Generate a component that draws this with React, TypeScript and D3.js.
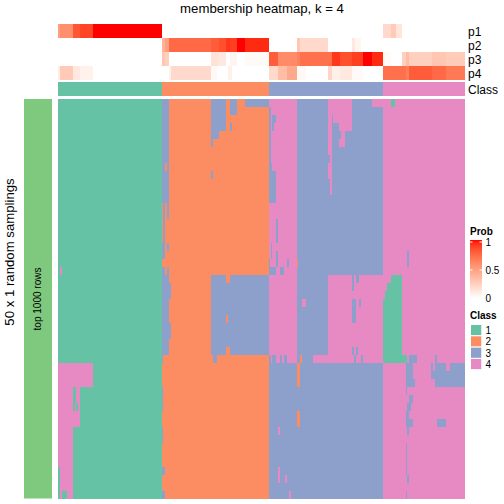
import React from "react";
import * as d3 from "d3";

const classNames = ["1", "2", "3", "4"];
const classColors = ["#66C2A5", "#FC8D62", "#8DA0CB", "#E78AC3"];
const columnClass: [number, number][] = [[1, 104], [2, 211], [3, 325], [4, 407]];
const columnCount = 407;

// each annotation: [probability, end column]
const p1: [number, number][] = [[0.5, 2], [0.58, 15], [0.82, 22], [0.88, 35], [1, 104], [0, 325], [0.2, 333], [0.28, 338], [0.14, 344], [0, 407]];
const p2: [number, number][] = [[0, 104], [0.4, 107], [0.5, 111], [0.75, 153], [0.8, 161], [0.85, 168], [0.92, 172], [0.9, 179], [1, 187], [0.95, 211], [0, 239], [0.3, 242], [0.2, 270], [0, 294], [0.12, 297], [0.05, 303], [0, 407]];
const p3: [number, number][] = [[0, 104], [0.3, 107], [0.25, 111], [0, 153], [0.15, 161], [0.12, 168], [0, 172], [0.06, 179], [0, 187], [0.03, 211], [0.8, 220], [0.6, 239], [0.65, 242], [0.72, 274], [0.92, 282], [0.85, 294], [0.9, 305], [1, 314], [0.95, 325], [0.03, 333], [0, 344], [0.25, 348], [0.35, 351], [0.25, 374], [0.3, 388], [0.27, 407]];
const p4: [number, number][] = [[0.1, 2], [0.28, 15], [0.12, 22], [0.07, 35], [0, 111], [0.08, 113], [0.2, 153], [0.04, 159], [0, 170], [0.08, 174], [0, 211], [0.2, 220], [0.35, 229], [0.45, 239], [0.04, 248], [0, 270], [0.22, 274], [0.08, 282], [0.12, 294], [0.03, 305], [0, 325], [0.72, 348], [0.65, 351], [0.8, 374], [0.75, 388], [0.68, 407]];
const probRows = ["p1", "p2", "p3", "p4"];
const probValues = [p1, p2, p3, p4];

// 50 sampling rows, run-length coded as class:endColumn
const samplingRows = [
  "1:104 3:111 2:153 3:168 2:172 3:179 2:187 3:211 4:239 3:270 4:294 3:314 4:333 1:337 4:407",
  "1:104 3:111 2:153 3:168 2:172 3:179 2:211 3:213 4:239 3:270 4:294 3:325 4:407",
  "1:104 3:111 2:153 3:168 2:211 3:213 4:214 3:218 4:239 3:270 4:274 3:275 4:294 3:325 4:407",
  "1:104 3:111 2:153 3:168 2:172 3:174 2:211 3:213 4:214 3:216 4:239 3:270 4:274 3:281 4:294 3:325 4:407",
  "1:104 3:111 2:153 3:161 2:211 3:213 4:239 3:270 4:274 3:283 4:287 3:325 4:407",
  "1:104 3:111 2:153 3:155 2:211 3:213 4:239 3:270 4:274 3:281 4:287 3:325 4:407",
  "1:104 3:111 2:211 3:213 4:239 3:270 4:274 3:325 4:407",
  "1:104 3:111 2:211 3:213 4:239 3:272 4:274 3:325 4:407",
  "1:104 3:107 2:109 3:111 2:211 3:214 4:239 3:270 4:274 3:325 4:407",
  "1:104 3:111 2:153 3:155 2:211 3:218 4:239 3:270 4:274 3:325 4:407",
  "1:104 3:111 2:211 3:218 4:239 3:272 4:274 3:325 4:407",
  "1:104 3:111 2:211 3:218 4:239 3:272 4:274 3:325 4:407",
  "1:104 3:111 2:211 3:218 4:239 3:325 4:407",
  "1:104 2:105 3:107 2:109 3:111 2:211 4:239 3:325 4:407",
  "1:104 2:105 3:107 2:109 3:111 2:211 4:239 3:325 4:407",
  "1:104 2:105 3:107 2:211 4:218 3:220 4:239 3:325 4:407",
  "1:104 2:105 3:107 2:211 4:218 3:220 4:239 3:325 4:407",
  "1:104 2:105 3:107 2:211 4:218 3:220 4:239 3:325 4:407",
  "1:104 3:107 2:109 3:111 2:211 4:213 3:214 4:239 3:325 4:407",
  "1:104 3:107 2:211 4:213 3:214 4:218 3:220 4:239 3:325 4:349 3:351 4:407",
  "1:104 2:211 3:212 4:218 3:220 4:229 3:231 4:239 2:240 3:325 4:349 3:351 4:407",
  "1:2 4:4 1:104 3:107 2:109 3:111 2:211 3:218 4:222 3:226 4:239 3:325 4:407",
  "1:104 3:111 2:153 3:168 2:172 3:211 4:239 3:270 4:294 3:296 4:298 3:301 4:333 1:344 4:407",
  "1:104 3:113 2:153 3:211 4:239 3:270 4:294 3:296 4:329 1:344 4:407",
  "1:104 3:113 2:153 3:211 4:239 3:270 4:327 1:344 4:407",
  "1:104 3:111 2:153 3:211 4:239 3:244 4:248 3:270 4:294 3:298 4:301 3:303 4:325 1:344 4:407",
  "1:104 3:111 2:153 3:211 4:239 3:270 4:294 3:298 4:325 1:344 4:407",
  "1:104 3:111 2:153 3:168 2:170 3:211 4:239 3:270 4:294 3:298 4:325 1:344 4:407",
  "1:104 3:113 2:153 3:211 4:239 3:270 4:325 1:344 4:407",
  "1:104 3:113 2:153 3:211 4:239 3:270 4:325 1:344 4:407",
  "1:104 3:111 2:153 3:211 4:239 3:270 4:325 1:344 4:407",
  "1:104 3:111 2:153 3:168 2:172 3:211 4:239 3:270 4:294 3:296 4:298 3:300 4:325 1:344 4:407",
  "1:104 3:105 2:155 3:159 2:211 3:213 4:214 3:218 4:222 3:224 4:226 3:229 4:239 3:242 2:244 3:255 4:296 3:298 4:303 3:305 4:325 1:349 4:351 3:359 4:377 3:379 4:407",
  "4:35 1:104 2:211 3:239 2:242 3:325 4:348 3:355 4:373 3:375 4:377 3:388 4:392 3:407",
  "4:35 1:104 2:211 3:239 2:242 3:325 4:348 3:355 4:373 3:407",
  "4:35 1:104 2:211 3:239 2:242 3:325 4:348 3:357 4:377 3:407",
  "4:15 1:18 4:22 1:104 3:105 2:211 3:325 4:348 3:349 4:407",
  "4:15 1:18 4:22 1:104 3:105 2:211 3:325 4:351 3:355 4:407",
  "4:15 1:17 4:18 1:20 4:22 1:104 3:105 2:211 3:325 4:349 3:353 4:407",
  "4:22 1:104 2:211 3:239 2:242 3:325 4:348 3:351 4:407",
  "4:22 1:104 2:211 3:239 2:242 3:325 4:348 3:355 4:379 3:388 4:407",
  "4:15 1:104 3:105 2:211 3:220 4:222 3:325 4:349 3:351 4:407",
  "4:15 1:104 3:105 2:211 3:325 4:407",
  "4:15 1:104 2:211 3:325 4:348 3:349 4:407",
  "4:15 1:104 2:211 3:325 4:348 3:349 4:407",
  "4:15 1:104 2:211 3:325 4:348 3:349 4:407",
  "1:2 4:15 1:104 3:107 2:211 3:220 4:222 3:325 4:348 3:349 4:407",
  "1:2 4:15 1:104 2:211 3:220 4:222 3:227 4:229 3:325 4:349 3:351 4:407",
  "1:2 4:15 1:104 2:211 3:325 4:407",
  "1:2 4:4 1:9 4:15 1:104 3:107 2:211 3:231 4:233 3:325 4:348 3:349 4:407",
];

const legendTicks = [0, 0.5, 1];
const title = "membership heatmap, k = 4";
const rowTitle = "50 x 1 random samplings";
const groupTitle = "top 1000 rows";

const font = "'Liberation Sans', Arial, sans-serif";
const parseRuns = (s: string) =>
  s.split(" ").map((t) => t.split(":").map(Number) as [number, number]);

export default function App() {
  const x = d3.scaleLinear().domain([0, columnCount]).range([58, 465]);
  const yRow = d3.scaleBand<number>().domain(d3.range(samplingRows.length)).range([99, 499]);
  const yProb = d3.scaleBand<string>().domain(probRows).range([24, 80]);
  const prob = d3.scaleLinear<string>().domain([0, 1]).range(["#FFFFFF", "#FF0000"]).interpolate(d3.interpolateLab);
  const cls = d3.scaleOrdinal<number, string>().domain([1, 2, 3, 4]).range(classColors);
  const yLegend = d3.scaleLinear().domain([0, 1]).range([298, 242]);
  const stops = d3.range(0, 1.0001, 0.05);

  return (
    <svg width={504} height={504} style={{ position: "fixed", left: 0, top: 0, background: "#fff" }} fontFamily={font}>
      <defs>
        <linearGradient id="probGrad" x1="0" x2="0" y1="1" y2="0">
          {stops.map((s) => (
            <stop key={s} offset={s} stopColor={prob(s)} />
          ))}
        </linearGradient>
      </defs>
      <text x={262} y={13} textAnchor="middle" fontSize={13.2}>{title}</text>

      {probRows.map((name, i) => {
        let start = 0;
        return (
          <g key={name}>
            {probValues[i].map(([v, end], j) => {
              const s = start;
              start = end;
              return <rect key={j} x={x(s)} width={x(end) - x(s)} y={yProb(name)} height={yProb.bandwidth()} fill={prob(v)} />;
            })}
            <text x={468} y={yProb(name)! + yProb.bandwidth() / 2 + 4.5} fontSize={12}>{name}</text>
          </g>
        );
      })}

      <g>
        {columnClass.map(([c, end], j) => {
          const s = j ? columnClass[j - 1][1] : 0;
          return <rect key={c} x={x(s)} width={x(end) - x(s)} y={82} height={14} fill={cls(c)} />;
        })}
        <text x={468} y={93.5} fontSize={12}>Class</text>
      </g>

      <rect x={24} y={99} width={28} height={399.5} fill="#7FC97F" />
      <text transform="translate(41,299) rotate(-90)" textAnchor="middle" fontSize={10}>{groupTitle}</text>
      <text transform="translate(14,252) rotate(-90)" textAnchor="middle" fontSize={13.2}>{rowTitle}</text>

      <g shapeRendering="crispEdges">
        {samplingRows.map((row, r) => {
          let start = 0;
          return parseRuns(row).map(([c, end], j) => {
            const s = start;
            start = end;
            return <rect key={`${r}-${j}`} x={x(s)} width={x(end) - x(s)} y={yRow(r)} height={yRow.bandwidth()} fill={cls(c)} />;
          });
        })}
      </g>

      <text x={470} y={235} fontSize={10} fontWeight="bold">Prob</text>
      <rect x={470} y={240} width={12} height={58.5} fill="url(#probGrad)" />
      {legendTicks.map((t) => (
        <g key={t}>
          <line x1={470} x2={472.5} y1={yLegend(t)} y2={yLegend(t)} stroke="#fff" strokeWidth={1} />
          <line x1={479.5} x2={482} y1={yLegend(t)} y2={yLegend(t)} stroke="#fff" strokeWidth={1} />
          <text x={485.5} y={yLegend(t) + 3.5} fontSize={10}>{t}</text>
        </g>
      ))}

      <text x={470} y={318.5} fontSize={10} fontWeight="bold">Class</text>
      {classNames.map((name, i) => (
        <g key={name}>
          <rect x={470.5} y={324.5 + i * 11.3} width={11.3} height={11.3} fill={classColors[i]} stroke="#fff" strokeWidth={1} />
          <text x={485.5} y={334 + i * 11.3} fontSize={10}>{name}</text>
        </g>
      ))}
    </svg>
  );
}
